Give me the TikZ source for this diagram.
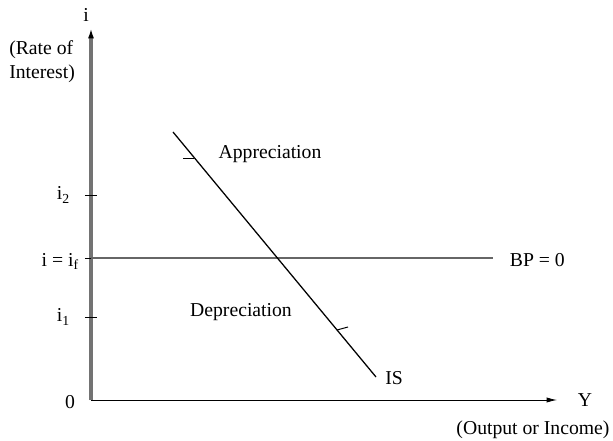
\documentclass[tikz,border=0pt]{standalone}
\usepackage{fontspec}
\setmainfont{Liberation Serif}
\usetikzlibrary{arrows.meta}

\begin{document}
\begin{tikzpicture}[scale=1,>={Latex[length=2.6mm,width=1.3mm]},font=\fontsize{14}{17}\selectfont]
      \useasboundingbox (-2.275,-1.025) rectangle (13.05,10.0);
      \def\itwo{5.125}
      \def\ifor{3.55}
      \def\ione{2.075}
      \coordinate (O) at (0,0);
      \coordinate (X) at (11.65,0);
      \coordinate (Y) at (0,9.3);
      \coordinate (BP) at (10.05,\ifor);
      \coordinate (Bl) at (0,\ifor);
      \coordinate (ISa) at (2.05,6.7);
      \coordinate (ISb) at (7.125,0.575);
      
      % AXIS
      \draw[-{Latex[length=2.6mm,width=1.5mm,black]},black!55,line width=2.2pt] (O) -- (Y);
      \draw[->,line width=0.6pt] (O) -- (X);
      \node at (-0.125,9.625) {i};
      \node[align=left,anchor=west,inner sep=0pt] at (-2.05,8.45) {(Rate of\\Interest)};
      \node at (12.35,0) {Y};
      \node at (11.05,-0.75) {(Output or Income)};
      \node at (-0.525,-0.05) {0};
      
      % TICKS
      \foreach \t in {\itwo,\ifor,\ione}
        \draw[line width=0.6pt] (-0.15,\t) -- (0.15,\t);
      \node[anchor=east] at (-0.4,\itwo) {i\textsubscript{2}};
      \node[anchor=east] at (-0.18,3.47) {i = i\textsubscript{f}};
      \node[anchor=east] at (-0.4,\ione) {i\textsubscript{1}};
      
      % BP AND IS
      \draw[black!60,line width=1.6pt] (Bl) -- (BP);
      \node[anchor=west] at (10.35,3.5) {BP = 0};
      \draw[line width=0.9pt] (ISa) -- (ISb);
      \node at (7.575,0.55) {IS};
      \draw[line width=0.7pt] (2.575,6.05) -- (2.3,6.05);
      \draw[line width=0.7pt] (6.15,1.75) -- (6.425,1.825);
      \node at (4.475,6.15) {Appreciation};
      \node at (3.75,2.2) {Depreciation};
    \end{tikzpicture}
\end{document}
